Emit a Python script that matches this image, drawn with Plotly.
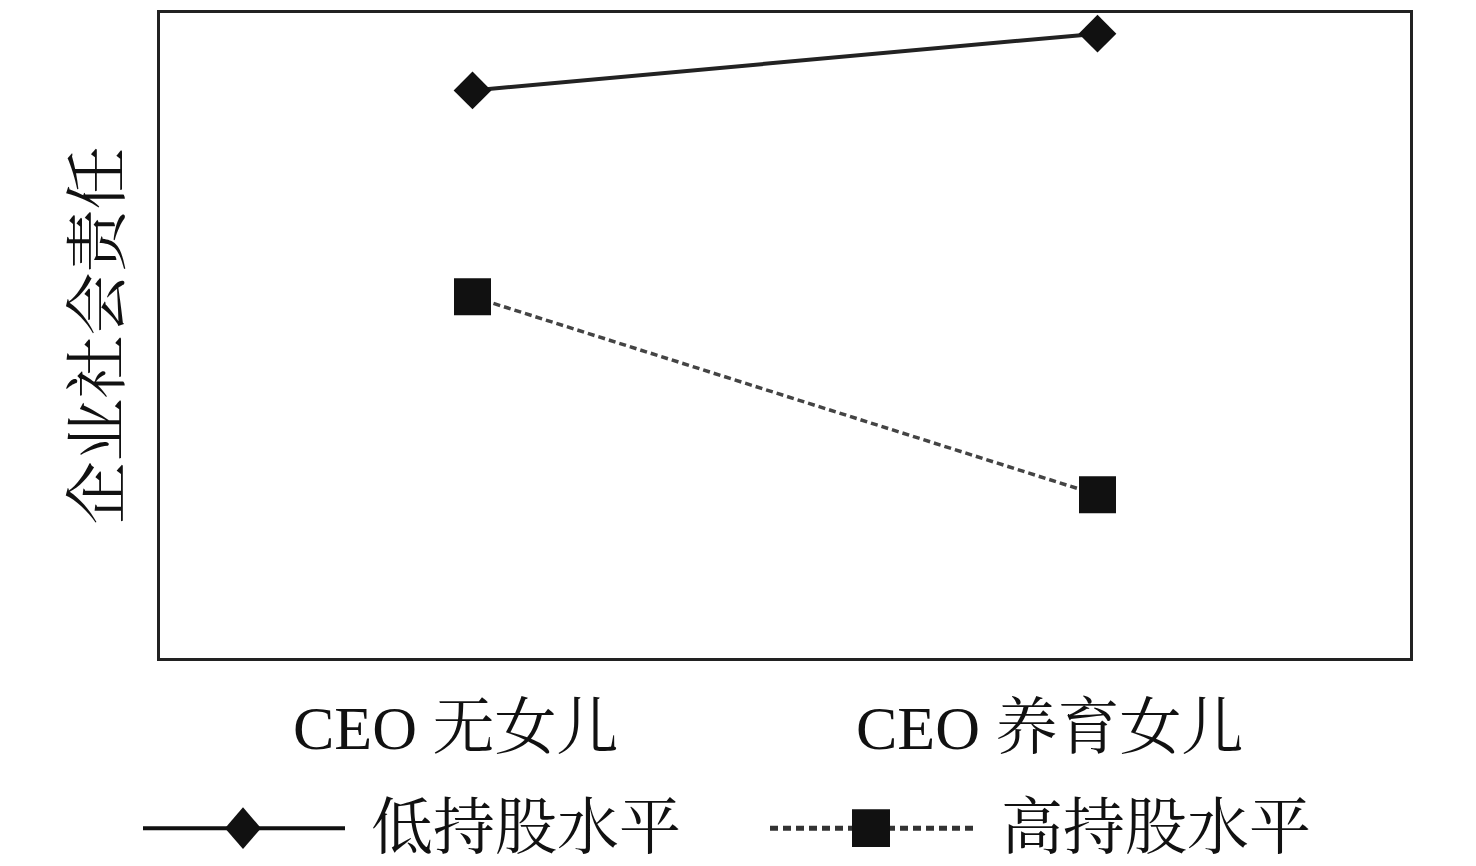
import plotly.graph_objects as go

categories = ["CEO 无女儿", "CEO 养育女儿"]
series_names = ["低持股水平", "高持股水平"]
low_values = [0.880, 0.968]
high_values = [0.560, 0.253]
y_title = "企业社会责任"

FONT = "Liberation Serif, Noto Serif CJK SC, Noto Sans CJK SC, serif"
INK = "#111111"

# page body has an 8px margin; compensate so the plot lands where the reference has it
OFF = 8
W, H = 1476 - OFF, 866 - OFF
L, R, T, B = 160 - OFF, 66, 10 - OFF, 866 - 658
PW, PH = W - L - R, H - T - B


def px(x):
    return (x - OFF - L) / PW


def py(y):
    return (H - B - (y - OFF)) / PH


fig = go.Figure()
fig.add_trace(go.Scatter(
    x=[0, 1], y=low_values, mode="lines+markers", name=series_names[0],
    line=dict(color="#222222", width=4),
    marker=dict(symbol="diamond", size=29, color=INK),
    showlegend=False,
))
fig.add_trace(go.Scatter(
    x=[0, 1], y=high_values, mode="lines+markers", name=series_names[1],
    line=dict(color="#444444", width=3.5, dash="7px,4px"),
    marker=dict(symbol="square", size=37, color=INK),
    showlegend=False,
))

shapes = []
annotations = []
# category labels (the reference sets them slightly left of the points)
label_shift = [-17, -48]
for i, (cat, sh) in enumerate(zip(categories, label_shift)):
    annotations.append(dict(text=cat, xref="x", yref="paper",
                            x=i, y=py(728), xshift=sh,
                            xanchor="center", yanchor="middle", showarrow=False,
                            font=dict(family=FONT, size=62, color=INK)))

# custom legend
ly = 829
shapes.append(dict(type="line", xref="paper", yref="paper",
                   x0=px(143), x1=px(345), y0=py(ly), y1=py(ly),
                   line=dict(color=INK, width=4)))
d = 21
shapes.append(dict(type="path", xref="paper", yref="paper",
                   path=f"M {px(243-18)},{py(ly)} L {px(243)},{py(ly-d)} L {px(243+18)},{py(ly)} L {px(243)},{py(ly+d)} Z",
                   fillcolor=INK, line=dict(width=0)))
annotations.append(dict(text=series_names[0], xref="paper", yref="paper",
                        x=px(369), y=py(ly), xanchor="left", yanchor="middle",
                        showarrow=False, font=dict(family=FONT, size=62, color=INK)))
shapes.append(dict(type="line", xref="paper", yref="paper",
                   x0=px(770), x1=px(973), y0=py(ly), y1=py(ly),
                   line=dict(color="#333333", width=5, dash="8px,5px")))
s = 19
shapes.append(dict(type="rect", xref="paper", yref="paper",
                   x0=px(871-s), x1=px(871+s), y0=py(ly-s), y1=py(ly+s),
                   fillcolor=INK, line=dict(width=0)))
annotations.append(dict(text=series_names[1], xref="paper", yref="paper",
                        x=px(999), y=py(ly), xanchor="left", yanchor="middle",
                        showarrow=False, font=dict(family=FONT, size=62, color=INK)))
# y title
annotations.append(dict(text=y_title, xref="paper", yref="paper",
                        x=px(97), y=py(334), xanchor="center", yanchor="middle",
                        textangle=-90, showarrow=False,
                        font=dict(family=FONT, size=63, color=INK)))

fig.update_layout(
    width=W, height=H,
    margin=dict(l=L, r=R, t=T, b=B),
    paper_bgcolor="white", plot_bgcolor="white",
    shapes=shapes, annotations=annotations,
    xaxis=dict(
        range=[-0.5, 1.5], showgrid=False, zeroline=False, showticklabels=False,
        showline=True, linecolor="#222222", linewidth=3, mirror=True, ticks="",
    ),
    yaxis=dict(
        range=[0, 1], showgrid=False, zeroline=False, showticklabels=False,
        showline=True, linecolor="#222222", linewidth=3, mirror=True, ticks="",
    ),
)

fig.write_html("out.html")
